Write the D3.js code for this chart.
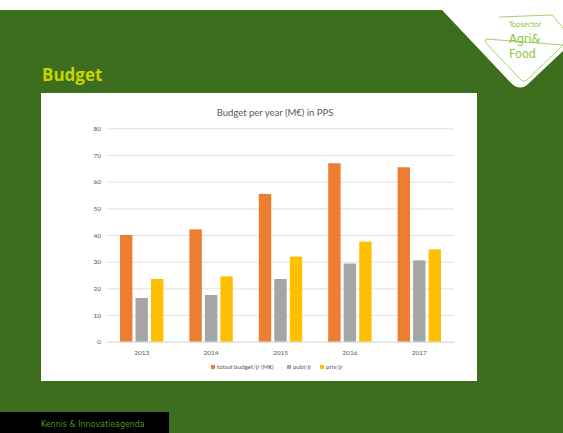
<!DOCTYPE html>
<html>
<head>
<meta charset="utf-8">
<script src="https://cdn.jsdelivr.net/npm/d3@7"></script>
<style>
  body { margin: 0; background: #fff; }
  svg { display: block; }
</style>
</head>
<body>
<div id="chart"></div>
<script>
// chart data
const years = ['2013', '2014', '2015', '2016', '2017'];
const seriesNames = ['totaal budget/jr (M€)', 'publ/jr', 'priv/jr'];
const totaal = [40.0, 42.1, 55.4, 66.9, 65.4];
const publ = [16.4, 17.5, 23.5, 29.3, 30.5];
const priv = [23.5, 24.5, 31.9, 37.5, 34.6];
const yTicks = [0, 10, 20, 30, 40, 50, 60, 70, 80];
const colors = ['#ed7d31', '#a5a5a5', '#ffc000'];

const W = 563;
const H = 433;
const chartFont = 'Lato, "Open Sans", sans-serif';
const logoFont = '"DejaVu Sans Condensed", sans-serif';

const svg = d3.select('#chart').append('svg')
  .attr('width', W)
  .attr('height', H);

// slide background
svg.append('rect').attr('x', 0).attr('y', 10).attr('width', W).attr('height', H - 10)
  .attr('fill', '#3c6e1e');

// white corner with the logo
svg.append('path')
  .attr('d', 'M442,10 L511,83 Q519,91 527,85 L563,51 L563,10 Z')
  .attr('fill', '#fff');
svg.append('path')
  .attr('d', 'M499,17 L552,15 L563,28 M563,45 L527,80 Q524,83 521,80 L486,43 Q484,41 486,39 Z')
  .attr('fill', 'none')
  .attr('stroke', '#9fd36a')
  .attr('stroke-width', 1);
svg.append('text').attr('x', 509).attr('y', 27).text('Topsector')
  .attr('font-family', logoFont).attr('font-size', 7.5).attr('fill', '#8cc63f');
svg.append('text').attr('x', 509).attr('y', 42.8).text('Agri&')
  .attr('font-family', logoFont).attr('font-size', 12.5).attr('fill', '#8cc63f');
svg.append('text').attr('x', 509).attr('y', 57.5).text('Food')
  .attr('font-family', logoFont).attr('font-size', 12.5).attr('fill', '#8cc63f');

// slide title
svg.append('text').attr('x', 42).attr('y', 81).text('Budget')
  .attr('font-family', '"Open Sans", sans-serif').attr('font-weight', 'bold')
  .attr('font-size', 17).attr('fill', '#c8d400');

// footer
svg.append('rect').attr('x', 0).attr('y', 412).attr('width', 169).attr('height', 21).attr('fill', '#000');
svg.append('text').attr('x', 41).attr('y', 427).text('Kennis & Innovatieagenda')
  .attr('font-family', logoFont).attr('font-size', 8.8).attr('fill', '#55951f');

// chart panel
svg.append('rect').attr('x', 41).attr('y', 93).attr('width', 436).attr('height', 288).attr('fill', '#fff');

svg.append('text').attr('x', 275).attr('y', 116).attr('text-anchor', 'middle')
  .text('Budget per year (M€) in PPS')
  .attr('font-family', chartFont).attr('font-size', 9.5).attr('fill', '#595959');

const plot = { left: 107, right: 454, top: 128.3, bottom: 341.7 };

const x0 = d3.scaleBand().domain(years).range([plot.left, plot.right])
  .paddingInner(0.33).paddingOuter(0.165);
const x1 = d3.scaleBand().domain(seriesNames).range([0, x0.bandwidth()])
  .paddingInner(0.2).paddingOuter(0.1);
const y = d3.scaleLinear().domain([0, 80]).range([plot.bottom, plot.top]);

// gridlines
const yAxisG = svg.append('g').attr('transform', `translate(${plot.left},0)`)
  .call(d3.axisLeft(y).tickValues(yTicks).tickSize(-(plot.right - plot.left)).tickPadding(6));
yAxisG.select('.domain').remove();
yAxisG.selectAll('.tick line').attr('stroke', '#d9d9d9').attr('stroke-width', 0.8);
yAxisG.selectAll('.tick text').attr('fill', '#595959')
  .attr('font-family', chartFont).attr('font-size', 6.5);

// bars
const rows = years.map((yr, i) => ({ year: yr, values: [totaal[i], publ[i], priv[i]] }));
const groups = svg.selectAll('.year-group')
  .data(rows)
  .join('g')
  .attr('class', 'year-group')
  .attr('transform', (d) => `translate(${x0(d.year)},0)`);

groups.selectAll('rect')
  .data((d) => d.values.map((v, j) => ({ name: seriesNames[j], value: v, color: colors[j] })))
  .join('rect')
  .attr('x', (d) => x1(d.name))
  .attr('y', (d) => y(d.value))
  .attr('width', x1.bandwidth())
  .attr('height', (d) => y(0) - y(d.value))
  .attr('fill', (d) => d.color);

// x axis
const xAxisG = svg.append('g').attr('transform', `translate(0,${plot.bottom})`)
  .call(d3.axisBottom(x0).tickSize(0).tickPadding(9));
xAxisG.select('.domain').attr('stroke', '#d9d9d9').attr('stroke-width', 0.8);
xAxisG.selectAll('.tick text').attr('fill', '#595959')
  .attr('font-family', chartFont).attr('font-size', 6.5);

// legend
const legendX = [211, 287, 320];
const legend = svg.selectAll('.legend-item')
  .data(seriesNames)
  .join('g')
  .attr('class', 'legend-item')
  .attr('transform', (d, i) => `translate(${legendX[i]},367)`);
legend.append('rect').attr('x', 0).attr('y', -2).attr('width', 4).attr('height', 4)
  .attr('fill', (d, i) => colors[i]);
legend.append('text').attr('x', 6).attr('y', 2.2).text((d) => d)
  .attr('font-family', chartFont).attr('font-size', 6.2).attr('fill', '#595959');
</script>
</body>
</html>
